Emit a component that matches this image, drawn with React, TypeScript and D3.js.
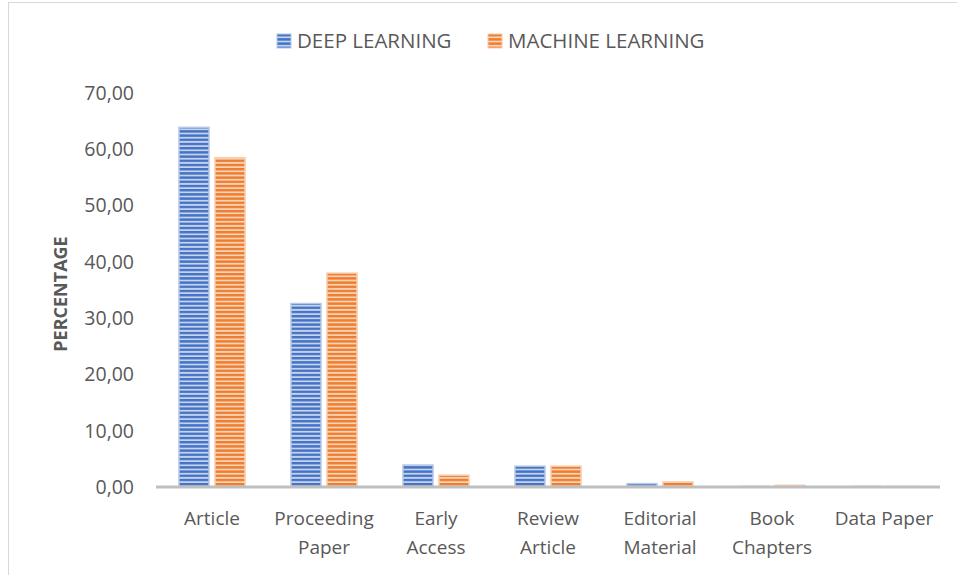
import { useEffect, useRef } from "react"
import * as d3 from "d3"

const categories = [
  ["Article"],
  ["Proceeding", "Paper"],
  ["Early", "Access"],
  ["Review", "Article"],
  ["Editorial", "Material"],
  ["Book", "Chapters"],
  ["Data Paper"],
]
const deepLearning = [63.9, 32.6, 3.9, 3.7, 0.6, 0.1, 0.1]
const machineLearning = [58.5, 38.0, 2.1, 3.7, 0.9, 0.3, 0.1]
const yTicks = [0, 10, 20, 30, 40, 50, 60, 70]
const seriesNames = ["DEEP LEARNING", "MACHINE LEARNING"]

const W = 957
const H = 575
const FONT = "'Open Sans', sans-serif"
const TXT = "#595959"

export default function App() {
  const svgRef = useRef<SVGSVGElement | null>(null)

  useEffect(() => {
    const svg = d3.select(svgRef.current)
    svg.selectAll("*").remove()

    const plot = { left: 156, right: 940, top: 93, bottom: 487 }

    const x = d3.scaleBand<number>()
      .domain(d3.range(categories.length))
      .range([plot.left, plot.right])
    const y = d3.scaleLinear().domain([0, 70]).range([plot.bottom, plot.top])
    const fmt = d3.formatLocale({ decimal: ",", thousands: ".", grouping: [3], currency: ["", ""] }).format(".2f")

    // striped fills, like the excel pattern
    const defs = svg.append("defs")
    const makePattern = (id: string, light: string, dark: string) => {
      const p = defs.append("pattern")
        .attr("id", id)
        .attr("patternUnits", "userSpaceOnUse")
        .attr("width", 8)
        .attr("height", 4.2)
      p.append("rect").attr("width", 8).attr("height", 4.2).attr("fill", light)
      p.append("rect").attr("y", 0).attr("width", 8).attr("height", 2.4).attr("fill", dark)
    }
    makePattern("blueStripe", "#c5d3ee", "#4472c4")
    makePattern("orangeStripe", "#fad3b4", "#ed7d31")

    const fills = ["url(#blueStripe)", "url(#orangeStripe)"]
    const edges = ["#b4c7e7", "#f8cbad"]

    // outer border, cut off at right and bottom
    svg.append("rect")
      .attr("x", 8.5).attr("y", 2.5)
      .attr("width", W).attr("height", H)
      .attr("fill", "none")
      .attr("stroke", "#d9d9d9")

    // y tick labels
    svg.append("g").selectAll("text")
      .data(yTicks)
      .join("text")
      .attr("x", 134)
      .attr("y", d => y(d))
      .attr("dy", "0.35em")
      .attr("text-anchor", "end")
      .attr("fill", TXT)
      .style("font-family", FONT)
      .style("font-size", "19.5px")
      .text(d => fmt(d))

    // y title
    svg.append("text")
      .attr("transform", `translate(67,294) rotate(-90)`)
      .attr("text-anchor", "middle")
      .attr("fill", TXT)
      .style("font-family", FONT)
      .style("font-size", "18px")
      .style("font-weight", "bold")
      .text("PERCENTAGE")

    // bars
    const barW = 30
    const gap = 6
    const series = [deepLearning, machineLearning]
    series.forEach((vals, si) => {
      svg.append("g").selectAll("rect")
        .data(vals)
        .join("rect")
        .attr("x", (_, i) => x(i)! + x.bandwidth() / 2 + (si === 0 ? -gap / 2 - barW : gap / 2))
        .attr("y", d => y(d))
        .attr("width", barW)
        .attr("height", d => plot.bottom - y(d))
        .attr("fill", fills[si])
        .attr("stroke", edges[si])
        .attr("stroke-width", 1.5)
    })

    // x axis line
    svg.append("line")
      .attr("x1", plot.left).attr("x2", plot.right)
      .attr("y1", plot.bottom).attr("y2", plot.bottom)
      .attr("stroke", "#bfbfbf")
      .attr("stroke-width", 3)

    // category labels
    const labels = svg.append("g").selectAll("text")
      .data(categories)
      .join("text")
      .attr("x", (_, i) => x(i)! + x.bandwidth() / 2)
      .attr("y", 525)
      .attr("text-anchor", "middle")
      .attr("fill", TXT)
      .style("font-family", FONT)
      .style("font-size", "19px")
    labels.selectAll("tspan")
      .data(d => d)
      .join("tspan")
      .attr("x", function () {
        return (this as SVGTSpanElement).parentElement!.getAttribute("x")
      })
      .attr("dy", (_, j) => (j === 0 ? 0 : 29))
      .text(d => d)

    // legend
    const legendX = [277, 488]
    seriesNames.forEach((name, si) => {
      const lg = svg.append("g").attr("transform", `translate(${legendX[si]},34)`)
      lg.append("rect").attr("width", 14).attr("height", 14).attr("fill", fills[si]).attr("stroke", edges[si])
      lg.append("text")
        .attr("x", 20).attr("y", 7).attr("dy", "0.35em")
        .attr("fill", TXT)
        .style("font-family", FONT)
        .style("font-size", "20.5px")
        .text(name)
    })
  }, [])

  return (
    <div style={{ position: "absolute", left: 0, top: 0 }}>
      <svg ref={svgRef} width={W} height={H} viewBox={`0 0 ${W} ${H}`} style={{ display: "block", background: "#fff" }} />
    </div>
  )
}
